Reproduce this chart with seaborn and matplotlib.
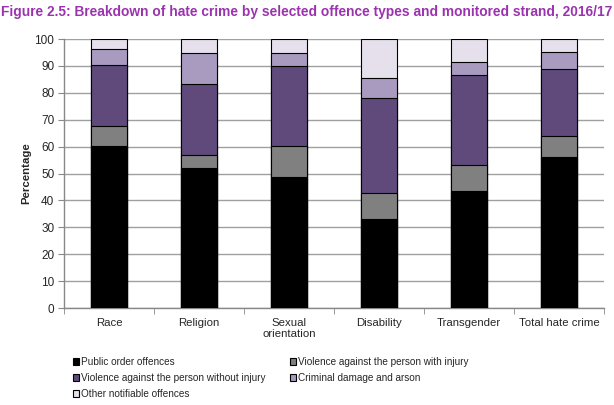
import pandas as pd
import numpy as np
import matplotlib.pyplot as plt
import seaborn as sns
from matplotlib.patches import Patch

# values (percent of each strand)
strands = ['Race', 'Religion', 'Sexual\norientation', 'Disability', 'Transgender', 'Total hate crime']
public_order = [60.1, 51.9, 48.8, 33.0, 43.4, 56.2]
vap_injury = [7.4, 4.9, 11.3, 9.9, 9.6, 7.8]
vap_no_injury = [22.7, 26.5, 29.9, 35.0, 33.5, 24.7]
criminal_damage = [6.1, 11.5, 4.7, 7.5, 5.1, 6.6]
other_offences = [3.7, 5.2, 5.3, 14.6, 8.4, 4.7]

offence_types = ['Public order offences', 'Violence against the person with injury',
                 'Violence against the person without injury', 'Criminal damage and arson',
                 'Other notifiable offences']
colours = ['#000000', '#808080', '#5F4A7B', '#A99BBF', '#E6E0EC']

df = pd.DataFrame({'strand': strands})
for name, vals in zip(offence_types, [public_order, vap_injury, vap_no_injury,
                                      criminal_damage, other_offences]):
    df[name] = vals
# cumulative tops for stacking
cum = df[offence_types].cumsum(axis=1)
cum['strand'] = strands

sns.set_style('white')
plt.rcParams['font.family'] = ['Liberation Sans', 'DejaVu Sans']

fig = plt.figure(figsize=(6.14, 4.05), dpi=100)
ax = fig.add_axes([0.1042, 0.2395, 0.8795, 0.6642])

# draw from the top layer down so each lower layer covers the one above
for name, col in reversed(list(zip(offence_types, colours))):
    sns.barplot(data=cum, x='strand', y=name, color=col, width=0.41,
                edgecolor='black', linewidth=0.8, saturation=1, ax=ax, zorder=3)

ax.set_ylim(0, 100)
ax.set_xlim(-0.5, 5.5)
ax.set_yticks(range(0, 101, 10))
ax.yaxis.grid(True, color='#A0A0A0', linewidth=1)
ax.set_axisbelow(True)
for s in ['top', 'right']:
    ax.spines[s].set_visible(False)
for s in ['left', 'bottom']:
    ax.spines[s].set_color('#888888')
    ax.spines[s].set_linewidth(1)
ax.tick_params(axis='y', length=4, color='#888888', labelsize=8.5, pad=3, left=True)
ax.set_xticks(range(6))
ax.set_xticklabels(strands, fontsize=8.2, linespacing=1.1)
ax.tick_params(axis='x', which='major', length=0, pad=7)
ax.set_xticks(np.arange(-0.5, 6, 1), minor=True)
ax.tick_params(axis='x', which='minor', length=4, color='#888888', bottom=True)
ax.set_xlabel('')
ax.set_ylabel('Percentage', fontsize=8.2, fontweight='bold', labelpad=2)

fig.text(0.499, 0.97, 'Figure 2.5: Breakdown of hate crime by selected offence types and monitored strand, 2016/17',
         ha='center', va='center', fontsize=9.9, fontweight='bold', color='#9B33AE')

handles = [Patch(facecolor=c, edgecolor='black', linewidth=0.8) for c in colours]
order = [0, 2, 4, 1, 3]
fig.legend([handles[i] for i in order], [offence_types[i] for i in order],
           ncol=2, loc='upper left', bbox_to_anchor=(0.113, 0.128), frameon=False,
           fontsize=7.2, handlelength=0.6, handleheight=0.6, handletextpad=0.2,
           labelspacing=0.6, columnspacing=2.4, borderaxespad=0)

fig.savefig('out.png', dpi=100)
